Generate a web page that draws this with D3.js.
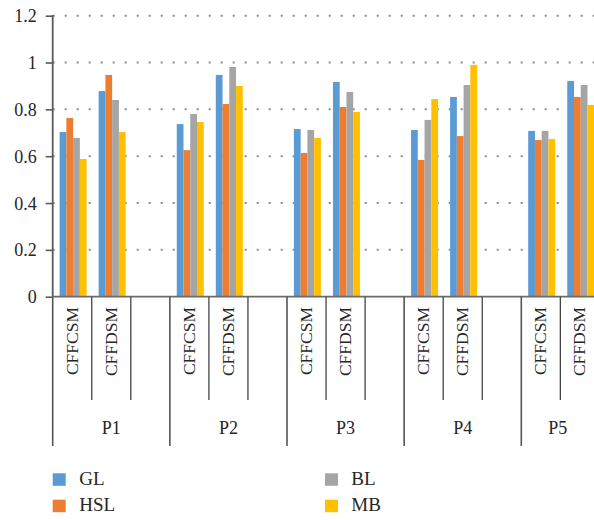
<!DOCTYPE html>
<html>
<head>
<meta charset="utf-8">
<script src="https://cdn.jsdelivr.net/npm/d3@7"></script>
<style>
  html, body { margin: 0; padding: 0; background: #fff; }
  svg { display: block; overflow: hidden; }
  svg text { font-family: "Liberation Serif", "DejaVu Serif", serif !important; fill: #262626; }
</style>
</head>
<body>
<svg id="chart" width="594" height="520"></svg>
<script>
// Groups, methods within each group, and series
const groups = ["P1", "P2", "P3", "P4", "P5"];
const methods = ["CFFCSM", "CFFDSM"];
const seriesNames = ["GL", "HSL", "BL", "MB"];
const seriesColors = ["#5B9BD5", "#ED7D31", "#A5A5A5", "#FFC000"];

// Values in order P1-CFFCSM, P1-CFFDSM, P2-CFFCSM, ... P5-CFFDSM
const GL  = [0.703, 0.878, 0.737, 0.947, 0.716, 0.917, 0.712, 0.853, 0.708, 0.921];
const HSL = [0.763, 0.947, 0.626, 0.823, 0.614, 0.810, 0.584, 0.686, 0.669, 0.853];
const BL  = [0.678, 0.840, 0.780, 0.981, 0.712, 0.874, 0.755, 0.904, 0.708, 0.904];
const MB  = [0.588, 0.703, 0.746, 0.900, 0.678, 0.789, 0.844, 0.990, 0.673, 0.819];
const seriesValues = [GL, HSL, BL, MB];

const yTicks = [0, 0.2, 0.4, 0.6, 0.8, 1, 1.2];
const yTickLabels = ["0", "0.2", "0.4", "0.6", "0.8", "1", "1.2"];

const W = 594;
const svg = d3.select("#chart");

// Each group has one slot per method plus an empty trailing slot
const slots = [];
groups.forEach(g => {
  methods.forEach(m => slots.push(g + "|" + m));
  slots.push(g + "|");
});

const x0 = 52.7, slotW = 39.05;
const x = d3.scaleBand().domain(slots).range([x0, x0 + slotW * slots.length]).padding(0);
const xIn = d3.scaleBand().domain(seriesNames).range([6.9, 33.9]).padding(0);
const y = d3.scaleLinear().domain([0, 1.2]).range([296.7, 15.7]);
const plotRight = x.range()[1];

// dotted gridlines
svg.append("g").selectAll("line")
  .data(yTicks.filter(t => t > 0))
  .join("line")
  .attr("x1", x0).attr("x2", plotRight)
  .attr("y1", d => y(d)).attr("y2", d => y(d))
  .attr("stroke", "#8a8a8a").attr("stroke-width", 2)
  .attr("stroke-dasharray", "2 10");

// bars
const barData = [];
groups.forEach((g, gi) => {
  methods.forEach((m, mi) => {
    const idx = gi * methods.length + mi;
    seriesNames.forEach((s, si) => {
      barData.push({ slot: g + "|" + m, series: s, value: seriesValues[si][idx], color: seriesColors[si] });
    });
  });
});
svg.append("g").selectAll("rect")
  .data(barData)
  .join("rect")
  .attr("x", d => x(d.slot) + xIn(d.series))
  .attr("width", xIn.bandwidth())
  .attr("y", d => y(d.value))
  .attr("height", d => y(0) - y(d.value))
  .attr("fill", d => d.color);

// y axis
const yAxis = d3.axisLeft(y).tickValues(yTicks)
  .tickFormat((d, i) => yTickLabels[i]).tickSize(7).tickPadding(9);
const gy = svg.append("g").attr("transform", `translate(${x0},0)`).call(yAxis)
  .attr("font-family", null).attr("font-size", null);
gy.select(".domain").remove();
gy.selectAll(".tick line").attr("stroke", "#5a5a5a").attr("stroke-width", 1.6);
gy.selectAll(".tick text")
  .attr("font-size", 18).attr("fill", "#262626").attr("dy", "0.34em");
svg.append("line")
  .attr("x1", x0).attr("x2", x0).attr("y1", y(1.2) - 0.8).attr("y2", y(0))
  .attr("stroke", "#5a5a5a").attr("stroke-width", 1.8);

// x axis line
svg.append("line")
  .attr("x1", x0).attr("x2", plotRight).attr("y1", y(0)).attr("y2", y(0))
  .attr("stroke", "#6b6b6b").attr("stroke-width", 1.8);

// slot separators (short) and group separators (long)
const sep = svg.append("g");
slots.forEach((s, i) => {
  const isGroupStart = i % 3 === 0;
  sep.append("line")
    .attr("x1", x(s)).attr("x2", x(s))
    .attr("y1", y(0)).attr("y2", isGroupStart ? 446 : 400)
    .attr("stroke", isGroupStart ? "#555" : "#444")
    .attr("stroke-width", isGroupStart ? 1.6 : 1.3);
});

// method labels, rotated
svg.append("g").selectAll("text")
  .data(slots.filter(s => s.split("|")[1] !== ""))
  .join("text")
  .attr("transform", d => `translate(${x(d) + x.bandwidth() / 2 + 5.6},307) rotate(-90)`)
  .attr("text-anchor", "end")
  .attr("font-size", 17.5)
  .text(d => d.split("|")[1]);

// group labels, centred on the visible part of each group
svg.append("g").selectAll("text")
  .data(groups)
  .join("text")
  .attr("x", g => {
    const start = x(g + "|" + methods[0]);
    const end = Math.min(start + slotW * 3, W);
    return (start + end) / 2;
  })
  .attr("y", 434)
  .attr("text-anchor", "middle")
  .attr("font-size", 18)
  .text(g => g);

// legend
const legendPos = [
  { sx: 52.7, sy: 473.3, tx: 79.3, ty: 484.5 },
  { sx: 52.7, sy: 499.7, tx: 79.3, ty: 511 },
  { sx: 325, sy: 473.3, tx: 351.3, ty: 484.5 },
  { sx: 325, sy: 499.7, tx: 351.3, ty: 511 }
];
const legend = svg.append("g").selectAll("g")
  .data(seriesNames)
  .join("g");
legend.append("rect")
  .attr("x", (d, i) => legendPos[i].sx).attr("y", (d, i) => legendPos[i].sy)
  .attr("width", 13).attr("height", 12.5)
  .attr("fill", (d, i) => seriesColors[i]);
legend.append("text")
  .attr("x", (d, i) => legendPos[i].tx).attr("y", (d, i) => legendPos[i].ty)
  .attr("font-size", 19)
  .text(d => d);
</script>
</body>
</html>
